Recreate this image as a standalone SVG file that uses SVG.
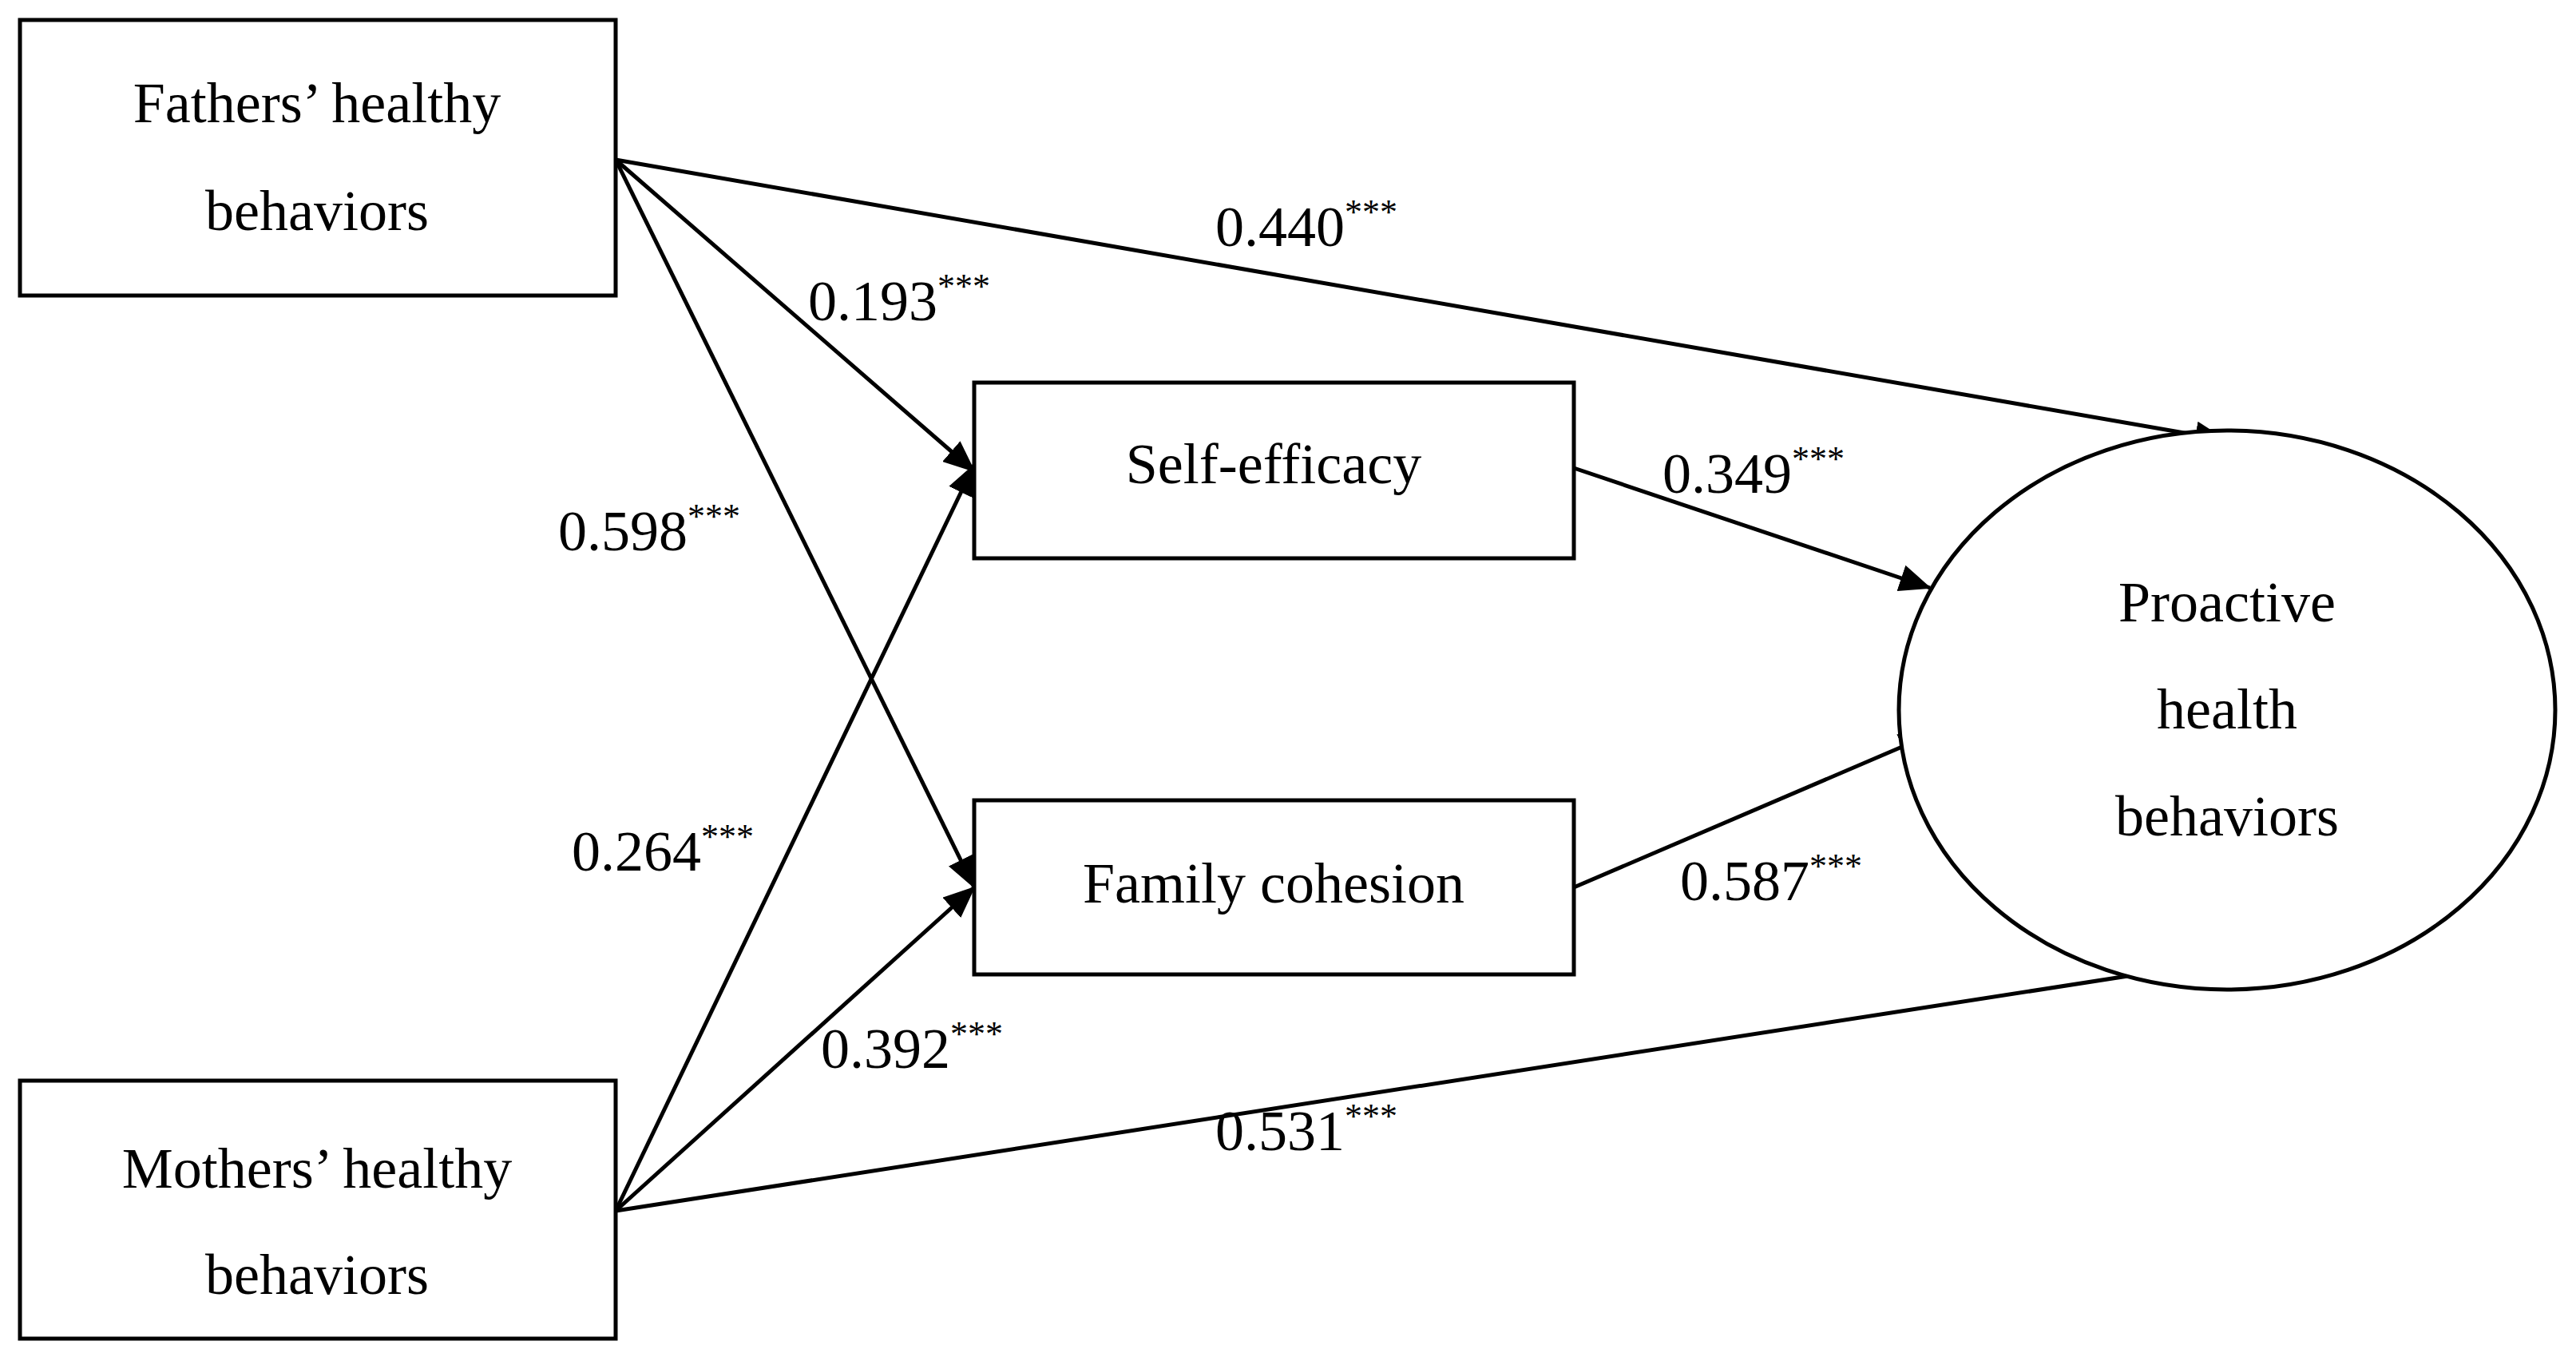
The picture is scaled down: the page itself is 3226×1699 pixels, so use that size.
<svg xmlns="http://www.w3.org/2000/svg" width="3226" height="1699" viewBox="0 0 3226 1699">
<style>
.b{fill:#fff;stroke:#000;stroke-width:5}
.t{font-family:"Liberation Serif",serif;font-size:72px;fill:#000;text-anchor:middle}
.l{font-family:"Liberation Serif",serif;font-size:72px;fill:#000}
.s{font-size:44px}
.c line{stroke:#000;stroke-width:5;marker-end:url(#a)}
</style>
<defs><marker id="a" markerWidth="12" markerHeight="10" refX="11" refY="5" orient="auto" markerUnits="userSpaceOnUse" viewBox="0 0 12 10"><path d="M0,0L12,5L0,10z" fill="#000"/></marker>
</defs>
<rect width="3226" height="1699" fill="#fff"/>
<g class="c">
<marker id="m" markerWidth="40" markerHeight="34" refX="38" refY="17" orient="auto" markerUnits="userSpaceOnUse"><path d="M0,0L40,17L0,34z"/></marker>
<line x1="771" y1="200" x2="2787" y2="551" marker-end="url(#m)" style="marker-end:url(#m)"/>
<line x1="771" y1="200" x2="1220" y2="590" style="marker-end:url(#m)"/>
<line x1="771" y1="200" x2="1220" y2="1111" style="marker-end:url(#m)"/>
<line x1="771" y1="1516" x2="1220" y2="582" style="marker-end:url(#m)"/>
<line x1="771" y1="1516" x2="1220" y2="1111" style="marker-end:url(#m)"/>
<line x1="771" y1="1516" x2="2787" y2="1203" style="marker-end:url(#m)"/>
<line x1="1971" y1="586" x2="2417" y2="736" style="marker-end:url(#m)"/>
<line x1="1971" y1="1111" x2="2417" y2="920" style="marker-end:url(#m)"/>
</g>
<g id="fathers"><rect class="b" x="25" y="25" width="746" height="345"/><text class="t" x="397" y="153">Fathers’ healthy</text><text class="t" x="397" y="288">behaviors</text></g>
<g id="mothers"><rect class="b" x="25" y="1353" width="746" height="323"/><text class="t" x="397" y="1487">Mothers’ healthy</text><text class="t" x="397" y="1620">behaviors</text></g>
<g id="self"><rect class="b" x="1220" y="479" width="751" height="220"/><text class="t" x="1595" y="605">Self-efficacy</text></g>
<g id="family"><rect class="b" x="1220" y="1002" width="751" height="218"/><text class="t" x="1595" y="1130">Family cohesion</text></g>
<g id="proactive"><ellipse class="b" cx="2789" cy="889" rx="411" ry="350"/><text class="t" x="2789" y="778">Proactive</text><text class="t" x="2789" y="912">health</text><text class="t" x="2789" y="1046">behaviors</text></g>
<g id="labels">
<text class="l" x="1522" y="308">0.440<tspan class="s" dy="-28">***</tspan></text>
<text class="l" x="1012" y="401">0.193<tspan class="s" dy="-28">***</tspan></text>
<text class="l" x="699" y="689">0.598<tspan class="s" dy="-28">***</tspan></text>
<text class="l" x="2082" y="617">0.349<tspan class="s" dy="-28">***</tspan></text>
<text class="l" x="716" y="1090">0.264<tspan class="s" dy="-28">***</tspan></text>
<text class="l" x="2104" y="1127">0.587<tspan class="s" dy="-28">***</tspan></text>
<text class="l" x="1028" y="1337">0.392<tspan class="s" dy="-28">***</tspan></text>
<text class="l" x="1522" y="1440">0.531<tspan class="s" dy="-28">***</tspan></text>
</g>
</svg>
